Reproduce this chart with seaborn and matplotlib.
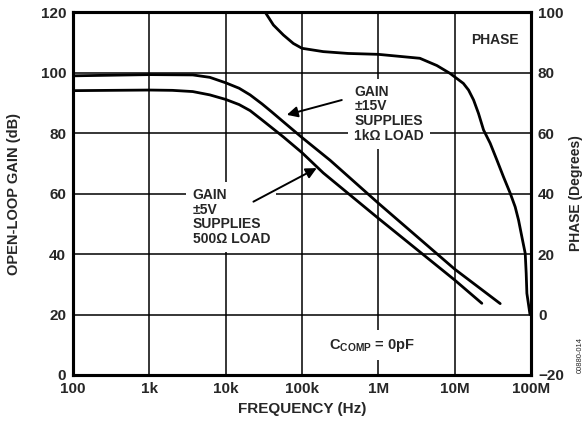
import numpy as np
import pandas as pd
import matplotlib
matplotlib.use("Agg")
import matplotlib.pyplot as plt
import seaborn as sns

# ---- data ----
freq_15v = [100, 1000, 3700, 6200, 10000, 15000, 20900, 30000, 40000, 57000,
            100000, 233000, 1e6, 1e7, 3.95e7]
gain_15v = [98.9, 99.3, 99.2, 98.4, 96.6, 94.8, 92.6, 89.6, 87.0, 83.7,
            78.5, 71.0, 56.8, 35.0, 23.6]

freq_5v = [100, 1000, 2000, 3700, 6200, 10000, 15000, 20900, 30000, 57000,
           100000, 190000, 1e6, 1e7, 2.27e7]
gain_5v = [94.0, 94.2, 94.1, 93.7, 92.6, 91.1, 89.4, 87.4, 84.3, 78.7,
           73.5, 66.8, 51.8, 31.4, 23.7]

freq_phase = [32.8e3, 42.2e3, 57e3, 77e3, 100e3, 190e3, 400e3, 1e6, 3.5e6, 5.85e6,
              8.7e6, 10.7e6, 13e6, 15.2e6, 17.7e6, 20.5e6, 23.9e6, 29.2e6, 35.7e6,
              43.6e6, 53.4e6, 62e6, 68.7e6, 75.9e6, 84e6, 86.5e6, 88.3e6, 97e6]
phase_deg = [100, 95.7, 92.4, 89.6, 88, 86.9, 86.3, 86, 84.7, 82.3,
             79.7, 78, 76.4, 74.2, 70.9, 66.5, 61, 56.6, 51.1,
             45.5, 40.1, 35.6, 31.2, 25.7, 20.2, 13.6, 7, 0]

x_ticks = [1e2, 1e3, 1e4, 1e5, 1e6, 1e7, 1e8]
x_tick_labels = ["100", "1k", "10k", "100k", "1M", "10M", "100M"]
gain_ticks = [0, 20, 40, 60, 80, 100, 120]
phase_ticks = [-20, 0, 20, 40, 60, 80, 100]
phase_tick_labels = ["\u221220", "0", "20", "40", "60", "80", "100"]

sns.set_style("white")
plt.rcParams["font.family"] = ["Liberation Sans", "DejaVu Sans"]
plt.rcParams["font.weight"] = "bold"
plt.rcParams["mathtext.fontset"] = "custom"
plt.rcParams["mathtext.bf"] = "Liberation Sans:bold"
plt.rcParams["mathtext.rm"] = "Liberation Sans:bold"

fig = plt.figure(figsize=(5.84, 4.26), dpi=100)
ax = fig.add_axes([73/584, 1-375/426, (531-73)/584, (375-12)/426])
ax2 = ax.twinx()

df15 = pd.DataFrame({"f": freq_15v, "g": gain_15v})
df5 = pd.DataFrame({"f": freq_5v, "g": gain_5v})
dfp = pd.DataFrame({"f": freq_phase, "p": phase_deg})

kw = dict(color="black", lw=2.0, estimator=None)
sns.lineplot(data=df15, x="f", y="g", ax=ax, **kw)
sns.lineplot(data=df5, x="f", y="g", ax=ax, **kw)
sns.lineplot(data=dfp, x="f", y="p", ax=ax2, **kw)
for line in ax.get_lines() + ax2.get_lines():
    line.set_solid_joinstyle("round")
    line.set_solid_capstyle("round")

for a in (ax, ax2):
    a.set_xscale("log")
    a.set_xlim(1e2, 1e8)
ax.set_ylim(0, 120)
ax2.set_ylim(-20, 100)

ax.set_xticks(x_ticks)
ax.set_xticklabels(x_tick_labels)
ax.minorticks_off()
ax2.minorticks_off()
ax.set_yticks(gain_ticks)
ax.set_yticklabels([str(v) for v in gain_ticks])
ax2.set_yticks(phase_ticks)
ax2.set_yticklabels(phase_tick_labels)

ax.grid(True, color="black", lw=1.1)
ax.set_axisbelow(True)
for a in (ax, ax2):
    a.tick_params(axis="both", length=0, labelsize=11, pad=5)
    for s in a.spines.values():
        s.set_linewidth(2.2)
        s.set_color("black")
        s.set_visible(True)
for lab in ax.get_xticklabels() + ax.get_yticklabels() + ax2.get_yticklabels():
    lab.set_fontweight("bold")

ax.set_xlabel("FREQUENCY (Hz)", fontsize=11, fontweight="bold", labelpad=4)
ax.set_ylabel("OPEN-LOOP GAIN (dB)", fontsize=10.5, fontweight="bold", labelpad=14)
ax2.set_ylabel("PHASE (Degrees)", fontsize=10, fontweight="bold", labelpad=4)

box = dict(facecolor="white", edgecolor="none", boxstyle="square,pad=0.45")
T = ax.transData
ax2.text(4.82e5, 95.9, "GAIN\n\u00b115V\nSUPPLIES\n1k\u03a9 LOAD", transform=T,
         ha="left", va="top", fontsize=10, fontweight="bold", linespacing=1.05,
         bbox=box, zorder=5)
ax2.text(3.7e3, 61.8, "GAIN\n\u00b15V\nSUPPLIES\n500\u03a9 LOAD", transform=T,
         ha="left", va="top", fontsize=10, fontweight="bold", linespacing=1.05,
         bbox=box, zorder=5)
ax2.text(3.4e7, 110.7, "PHASE", transform=T, ha="center", va="center",
         fontsize=10, fontweight="bold", zorder=5)
ax2.text(8.3e5, 9.9, r"C$_{\mathbf{COMP}}$ = 0pF", transform=T, ha="center",
         va="center", fontsize=10.5, fontweight="bold", bbox=box, zorder=5)

arrow = dict(arrowstyle="-|>", color="black", lw=1.4, mutation_scale=16,
             shrinkA=0, shrinkB=0)
ax2.annotate("", xy=(6.32e4, 86.0), xytext=(3.32e5, 90.9),
             xycoords=T, textcoords=T, arrowprops=arrow, zorder=6)
ax2.annotate("", xy=(1.56e5, 68.4), xytext=(2.31e4, 57.3),
             xycoords=T, textcoords=T, arrowprops=arrow, zorder=6)

fig.text(580/584, 1-355/426, "00880-014", rotation=90, ha="center", va="center",
         fontsize=5.5, fontweight="normal")

fig.savefig("out.png", dpi=100)
